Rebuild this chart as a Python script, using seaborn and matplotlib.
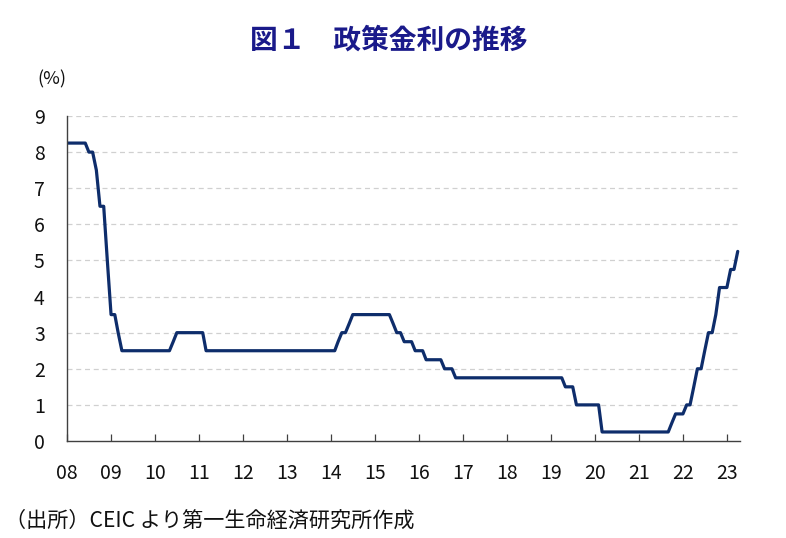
import matplotlib
matplotlib.use("Agg")
import matplotlib.pyplot as plt
import seaborn as sns
import pandas as pd
from datetime import datetime

# policy rate, month-end values (%), Jan 2008 - Apr 2023
rate_2008 = [8.25, 8.25, 8.25, 8.25, 8.25, 8.25, 8.00, 8.00, 7.50, 6.50, 6.50, 5.00]
rate_2009 = [3.50, 3.50, 3.00, 2.50, 2.50, 2.50, 2.50, 2.50, 2.50, 2.50, 2.50, 2.50]
rate_2010 = [2.50, 2.50, 2.50, 2.50, 2.50, 2.75, 3.00, 3.00, 3.00, 3.00, 3.00, 3.00]
rate_2011 = [3.00, 3.00, 2.50, 2.50, 2.50, 2.50, 2.50, 2.50, 2.50, 2.50, 2.50, 2.50]
rate_2012 = [2.50, 2.50, 2.50, 2.50, 2.50, 2.50, 2.50, 2.50, 2.50, 2.50, 2.50, 2.50]
rate_2013 = [2.50, 2.50, 2.50, 2.50, 2.50, 2.50, 2.50, 2.50, 2.50, 2.50, 2.50, 2.50]
rate_2014 = [2.50, 2.50, 2.75, 3.00, 3.00, 3.25, 3.50, 3.50, 3.50, 3.50, 3.50, 3.50]
rate_2015 = [3.50, 3.50, 3.50, 3.50, 3.50, 3.25, 3.00, 3.00, 2.75, 2.75, 2.75, 2.50]
rate_2016 = [2.50, 2.50, 2.25, 2.25, 2.25, 2.25, 2.25, 2.00, 2.00, 2.00, 1.75, 1.75]
rate_2017 = [1.75, 1.75, 1.75, 1.75, 1.75, 1.75, 1.75, 1.75, 1.75, 1.75, 1.75, 1.75]
rate_2018 = [1.75, 1.75, 1.75, 1.75, 1.75, 1.75, 1.75, 1.75, 1.75, 1.75, 1.75, 1.75]
rate_2019 = [1.75, 1.75, 1.75, 1.75, 1.50, 1.50, 1.50, 1.00, 1.00, 1.00, 1.00, 1.00]
rate_2020 = [1.00, 1.00, 0.25, 0.25, 0.25, 0.25, 0.25, 0.25, 0.25, 0.25, 0.25, 0.25]
rate_2021 = [0.25, 0.25, 0.25, 0.25, 0.25, 0.25, 0.25, 0.25, 0.25, 0.50, 0.75, 0.75]
rate_2022 = [0.75, 1.00, 1.00, 1.50, 2.00, 2.00, 2.50, 3.00, 3.00, 3.50, 4.25, 4.25]
rate_2023 = [4.25, 4.75, 4.75, 5.25]

year_labels = ["08", "09", "10", "11", "12", "13", "14", "15",
               "16", "17", "18", "19", "20", "21", "22", "23"]

rates = (rate_2008 + rate_2009 + rate_2010 + rate_2011 + rate_2012 + rate_2013
         + rate_2014 + rate_2015 + rate_2016 + rate_2017 + rate_2018 + rate_2019
         + rate_2020 + rate_2021 + rate_2022 + rate_2023)

df = pd.DataFrame({
    "date": pd.date_range("2008-01-01", periods=len(rates), freq="MS"),
    "rate": rates,
})

sns.set_theme(style="white")
plt.rcParams["font.family"] = ["Noto Sans CJK JP", "DejaVu Sans"]

fig = plt.figure(figsize=(7.86, 5.38), dpi=100)
ax = fig.add_axes([0.0852, 0.1803, 0.8563, 0.6041])

sns.lineplot(data=df, x="date", y="rate", ax=ax, color="#0e2d6b", linewidth=2.3)

ax.set_ylim(0, 9)
ax.set_yticks(range(0, 10))
ax.set_xlim(datetime(2008, 1, 1), datetime(2023, 4, 20))
ax.set_xticks([datetime(2000 + int(y), 1, 1) for y in year_labels])
ax.set_xticklabels(year_labels)
ax.set_xlabel("")
ax.set_ylabel("")

# dashed horizontal gridlines
for v in range(1, 10):
    ax.axhline(v, color="#d0d0d0", linestyle=(0, (4, 3)), linewidth=0.9, zorder=0)

for side in ["top", "right"]:
    ax.spines[side].set_visible(False)
for side in ["left", "bottom"]:
    ax.spines[side].set_color("#404040")
    ax.spines[side].set_linewidth(1.0)

ax.tick_params(axis="x", direction="in", length=5, width=0.9, color="#404040",
               bottom=True, pad=16, labelsize=14, labelcolor="#111111")
ax.tick_params(axis="y", length=0, pad=16, labelsize=14, labelcolor="#111111")

fig.text(0.495, 0.925, "図１　政策金利の推移", ha="center", va="center",
         fontsize=20, fontweight="bold", color="#1a1a8a")
fig.text(0.047, 0.852, "(%)", ha="left", va="center", fontsize=13, color="#111111")
fig.text(0.006, 0.033, "（出所）CEIC より第一生命経済研究所作成", ha="left", va="center",
         fontsize=15.2, color="#111111")

fig.savefig("out.png", dpi=100)
